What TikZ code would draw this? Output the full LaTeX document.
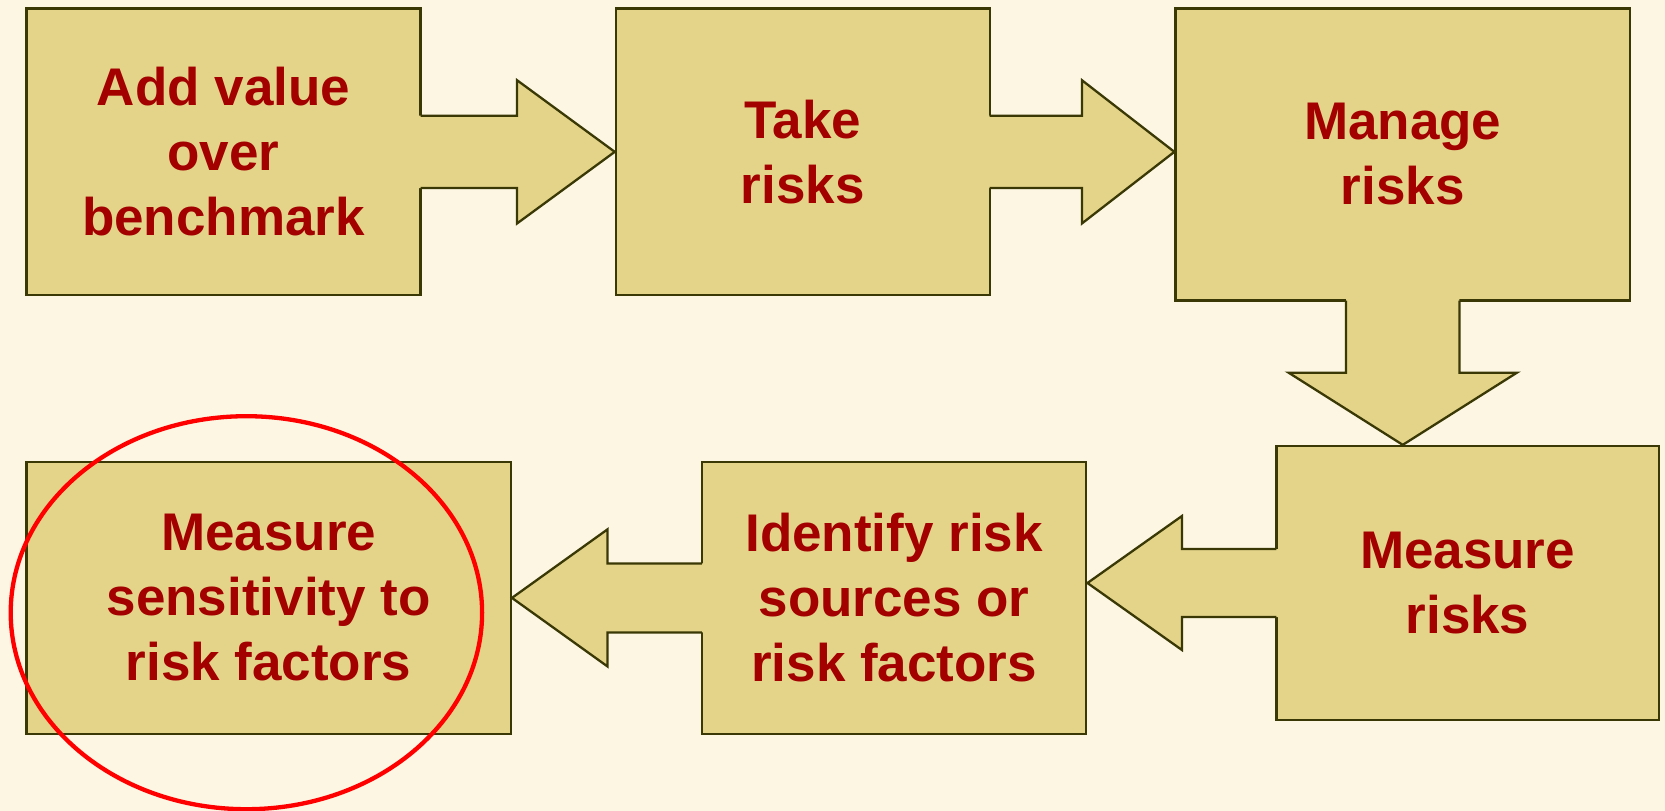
\documentclass[tikz,border=0pt]{standalone}
\usepackage{fontspec}
\setmainfont{Liberation Sans}
\usetikzlibrary{calc,shapes.geometric}
\definecolor{bgcol}{HTML}{FDF6E3}
\definecolor{boxfill}{HTML}{E4D48A}
\definecolor{edgecol}{HTML}{3A3805}
\definecolor{txtcol}{HTML}{A30000}
\definecolor{ringcol}{HTML}{FF0000}
\newcommand\blockarr[5]{%
  \coordinate (bB) at (#1);
  \coordinate (bT) at (#2);
  \coordinate (bH) at ($(bT)!#5!(bB)$);
  \coordinate (bBx) at ($(bB)!-3pt!(bT)$);
  \coordinate (bBs) at ($(bB)!-1.15pt!(bT)$);
  \fill[boxfill] ($(bBx)!#3!90:(bT)$) -- ($(bH)!#3!90:(bT)$) -- ($(bH)!#4!90:(bT)$) -- (bT)
    -- ($(bH)!#4!-90:(bT)$) -- ($(bH)!#3!-90:(bT)$) -- ($(bBx)!#3!-90:(bT)$) -- cycle;
  \draw[edge] ($(bBs)!#3!90:(bT)$) -- ($(bH)!#3!90:(bT)$) -- ($(bH)!#4!90:(bT)$) -- (bT)
    -- ($(bH)!#4!-90:(bT)$) -- ($(bH)!#3!-90:(bT)$) -- ($(bBs)!#3!-90:(bT)$);
}
\begin{document}
\begin{tikzpicture}[x=1pt,y=-1pt,
  edge/.style={draw=edgecol,line width=2.3pt},
  stepbox/.style={rectangle,fill=boxfill,edge,inner sep=0pt,align=center,
    text=txtcol,font=\fontsize{53}{65}\selectfont\bfseries},
  ring/.style={ellipse,draw=ringcol,line width=4.3pt,inner sep=0pt}]
\fill[bgcol] (0,0) rectangle (1665,811);
\useasboundingbox (0,0) rectangle (1665,811);
\node[stepbox,minimum width=394pt,minimum height=286.7pt] (b1) at (223.5,151.85) {Add value\\over\\benchmark};
\node[stepbox,minimum width=373.8pt,minimum height=286.7pt] (b2) at (802.8,151.85) {Take\\risks};
\node[stepbox,minimum width=454.5pt,minimum height=292pt] (b3) at (1402.75,154.5) {Manage\\risks};
\node[stepbox,minimum width=382.3pt,minimum height=274pt] (b4) at (1467.55,583) {Measure\\risks};
\node[stepbox,minimum width=384.4pt,minimum height=271.8pt] (b5) at (894.1,597.9) {Identify risk\\sources or\\risk factors};
\node[stepbox,minimum width=484.3pt,minimum height=271.8pt] (b6) at (268.65,597.9) {Measure\\sensitivity to\\risk factors};
\blockarr{b1.east |- b2.west}{b2.west}{36.2pt}{71.6pt}{97.7pt}
\blockarr{b2.east}{b3.west |- b2.west}{36.2pt}{71.6pt}{92.4pt}
\blockarr{b3.south}{b3.south |- b4.north}{56.7pt}{114.2pt}{72.2pt}
\blockarr{b4.west}{b5.east |- b4.west}{34pt}{67pt}{94.5pt}
\blockarr{b5.west}{b6.east |- b5.west}{34.5pt}{68.5pt}{95.5pt}
\node[ring,minimum width=471.4pt,minimum height=393pt] (hl) at (246.4,612.7) {};
\end{tikzpicture}
\end{document}
